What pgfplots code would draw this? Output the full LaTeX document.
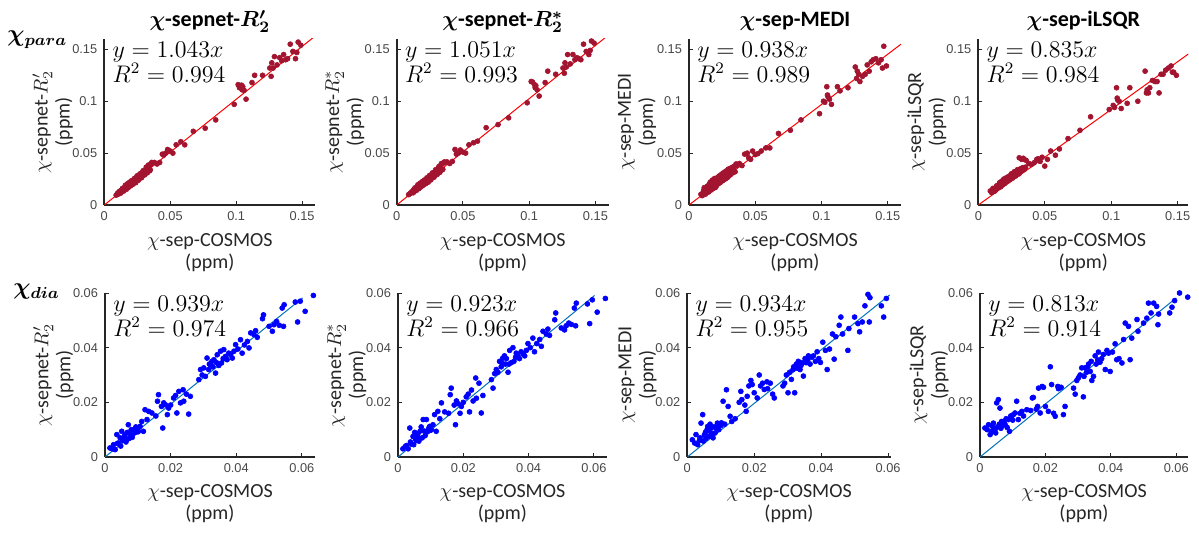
\documentclass[border=0pt]{standalone}
\usepackage{pgfplots}
\pgfplotsset{compat=1.18}
\usepackage{pgfplotstable}
\usepackage{fontspec}
\usepackage{bm}
\setmainfont{Carlito}
\newfontfamily\tickfont{Liberation Sans}
\definecolor{pdot}{HTML}{A2142F}
\definecolor{dline}{HTML}{0072BD}
\definecolor{axc}{HTML}{262626}

\pgfplotstableread{
x y1 y2 y3 y4
0.0090 0.0095 0.0100 0.0103 0.0135
0.0100 0.0112 0.0110 0.0090 0.0120
0.0108 0.0105 0.0115 0.0125 0.0145
0.0110 0.0125 0.0120 0.0140 0.0160
0.0115 0.0130 0.0128 0.0167 0.0130
0.0120 0.0118 0.0125 0.0110 0.0150
0.0125 0.0115 0.0118 0.0105 0.0135
0.0126 0.0140 0.0145 0.0150 0.0160
0.0130 0.0128 0.0130 0.0120 0.0145
0.0135 0.0150 0.0155 0.0170 0.0170
0.0138 0.0160 0.0165 0.0180 0.0185
0.0140 0.0138 0.0142 0.0135 0.0160
0.0145 0.0160 0.0165 0.0185 0.0185
0.0148 0.0135 0.0140 0.0125 0.0165
0.0150 0.0148 0.0150 0.0140 0.0170
0.0154 0.0170 0.0178 0.0200 0.0190
0.0158 0.0155 0.0160 0.0150 0.0180
0.0160 0.0190 0.0195 0.0220 0.0215
0.0162 0.0178 0.0185 0.0205 0.0205
0.0166 0.0165 0.0170 0.0160 0.0190
0.0168 0.0152 0.0158 0.0145 0.0175
0.0170 0.0185 0.0190 0.0215 0.0210
0.0174 0.0172 0.0175 0.0170 0.0200
0.0176 0.0205 0.0210 0.0240 0.0230
0.0178 0.0195 0.0200 0.0230 0.0220
0.0182 0.0180 0.0185 0.0180 0.0210
0.0184 0.0170 0.0175 0.0160 0.0195
0.0186 0.0200 0.0205 0.0225 0.0230
0.0190 0.0188 0.0192 0.0175 0.0215
0.0192 0.0220 0.0225 0.0255 0.0250
0.0194 0.0210 0.0215 0.0240 0.0235
0.0198 0.0195 0.0198 0.0190 0.0225
0.0200 0.0185 0.0190 0.0170 0.0210
0.0202 0.0222 0.0228 0.0250 0.0245
0.0206 0.0200 0.0205 0.0185 0.0230
0.0208 0.0235 0.0240 0.0210 0.0260
0.0210 0.0225 0.0230 0.0260 0.0255
0.0215 0.0210 0.0215 0.0200 0.0240
0.0218 0.0200 0.0205 0.0245 0.0230
0.0220 0.0235 0.0240 0.0270 0.0265
0.0225 0.0220 0.0225 0.0210 0.0250
0.0228 0.0255 0.0262 0.0230 0.0275
0.0230 0.0245 0.0250 0.0280 0.0270
0.0235 0.0228 0.0232 0.0215 0.0255
0.0238 0.0215 0.0220 0.0260 0.0245
0.0240 0.0260 0.0265 0.0290 0.0280
0.0245 0.0240 0.0245 0.0230 0.0265
0.0248 0.0280 0.0285 0.0250 0.0300
0.0250 0.0268 0.0275 0.0300 0.0290
0.0255 0.0250 0.0255 0.0235 0.0275
0.0258 0.0238 0.0242 0.0285 0.0260
0.0260 0.0280 0.0285 0.0310 0.0300
0.0266 0.0262 0.0268 0.0245 0.0285
0.0270 0.0300 0.0310 0.0275 0.0320
0.0272 0.0295 0.0300 0.0320 0.0310
0.0278 0.0272 0.0278 0.0255 0.0290
0.0282 0.0262 0.0268 0.0310 0.0280
0.0284 0.0305 0.0315 0.0330 0.0320
0.0290 0.0280 0.0285 0.0265 0.0300
0.0294 0.0330 0.0340 0.0300 0.0340
0.0296 0.0320 0.0330 0.0345 0.0330
0.0302 0.0300 0.0305 0.0280 0.0310
0.0306 0.0290 0.0295 0.0330 0.0300
0.0308 0.0335 0.0345 0.0350 0.0455
0.0315 0.0315 0.0320 0.0295 0.0325
0.0318 0.0365 0.0370 0.0335 0.0350
0.0322 0.0350 0.0365 0.0360 0.0340
0.0326 0.0310 0.0315 0.0355 0.0440
0.0330 0.0325 0.0330 0.0310 0.0330
0.0335 0.0385 0.0390 0.0355 0.0360
0.0338 0.0375 0.0400 0.0370 0.0450
0.0345 0.0330 0.0340 0.0375 0.0440
0.0348 0.0340 0.0345 0.0320 0.0345
0.0355 0.0395 0.0405 0.0395 0.0365
0.0360 0.0410 0.0415 0.0380 0.0430
0.0380 0.0410 0.0415 0.0400 0.0400
0.0400 0.0395 0.0400 0.0380 0.0390
0.0420 0.0410 0.0420 0.0490 0.0407
0.0440 0.0490 0.0535 0.0500 0.0440
0.0450 0.0480 0.0490 0.0455 0.0445
0.0465 0.0500 0.0500 0.0440 0.0420
0.0480 0.0535 0.0530 0.0520 0.0460
0.0500 0.0520 0.0510 0.0485 0.0375
0.0520 0.0500 0.0500 0.0495 0.0440
0.0545 0.0580 0.0580 0.0520 0.0520
0.0580 0.0610 0.0600 0.0550 0.0480
0.0610 0.0580 0.0615 0.0550 0.0540
0.0675 0.0710 0.0745 0.0690 0.0640
0.0765 0.0740 0.0775 0.0720 0.0720
0.0845 0.0820 0.0840 0.0820 0.0850
0.0985 0.0970 0.0985 0.0880 0.0920
0.1015 0.1160 0.1190 0.1000 0.0960
0.1025 0.1130 0.1185 0.0990 0.0940
0.1040 0.1155 0.1160 0.1140 0.1130
0.1045 0.1110 0.1130 0.1060 0.1030
0.1050 0.1140 0.1150 0.1040 0.1010
0.1060 0.1105 0.1110 0.1020 0.1000
0.1075 0.1020 0.1050 0.0970 0.0930
0.1120 0.1180 0.1180 0.1140 0.0980
0.1140 0.1250 0.1290 0.1100 0.1130
0.1200 0.1250 0.1260 0.1130 0.1000
0.1255 0.1320 0.1320 0.1330 0.1290
0.1265 0.1240 0.1270 0.1220 0.1080
0.1270 0.1370 0.1370 0.1290 0.1110
0.1280 0.1320 0.1330 0.1260 0.1080
0.1290 0.1430 0.1450 0.1190 0.1130
0.1310 0.1350 0.1360 0.1240 0.1200
0.1330 0.1420 0.1450 0.1260 0.1190
0.1345 0.1390 0.1400 0.1350 0.1190
0.1360 0.1450 0.1420 0.1290 0.1080
0.1375 0.1400 0.1410 0.1380 0.1260
0.1390 0.1410 0.1400 0.1400 0.1260
0.1410 0.1550 0.1550 0.1410 0.1300
0.1430 0.1480 0.1480 0.1370 0.1320
0.1450 0.1410 0.1450 0.1400 0.1340
0.1460 0.1470 0.1490 0.1320 0.1280
0.1470 0.1570 0.1580 0.1530 0.1280
0.1490 0.1540 0.1560 0.1340 0.1250
}\toprow

\pgfplotstableread{
x y1 y2 y3 y4
0.0015 0.0033 0.0030 0.0063 0.0106
0.0022 0.0030 0.0038 0.0051 0.0100
0.0026 0.0045 0.0042 0.0082 0.0118
0.0031 0.0027 0.0030 0.0045 0.0082
0.0036 0.0082 0.0106 0.0060 0.0094
0.0038 0.0050 0.0055 0.0070 0.0112
0.0041 0.0051 0.0048 0.0124 0.0124
0.0046 0.0070 0.0075 0.0155 0.0100
0.0048 0.0040 0.0045 0.0058 0.0088
0.0051 0.0094 0.0090 0.0080 0.0198
0.0054 0.0060 0.0065 0.0090 0.0110
0.0056 0.0063 0.0060 0.0068 0.0210
0.0059 0.0075 0.0080 0.0100 0.0120
0.0061 0.0082 0.0085 0.0112 0.0179
0.0064 0.0055 0.0058 0.0075 0.0105
0.0066 0.0063 0.0068 0.0095 0.0130
0.0068 0.0090 0.0095 0.0120 0.0115
0.0071 0.0118 0.0110 0.0105 0.0130
0.0074 0.0068 0.0070 0.0085 0.0125
0.0077 0.0082 0.0137 0.0070 0.0118
0.0080 0.0100 0.0095 0.0110 0.0140
0.0083 0.0072 0.0078 0.0088 0.0108
0.0087 0.0100 0.0137 0.0106 0.0137
0.0090 0.0088 0.0092 0.0124 0.0094
0.0094 0.0110 0.0105 0.0100 0.0150
0.0097 0.0106 0.0112 0.0118 0.0149
0.0100 0.0092 0.0098 0.0115 0.0135
0.0102 0.0094 0.0100 0.0125 0.0155
0.0107 0.0112 0.0118 0.0204 0.0161
0.0112 0.0130 0.0155 0.0120 0.0204
0.0117 0.0094 0.0094 0.0246 0.0137
0.0122 0.0173 0.0167 0.0185 0.0160
0.0128 0.0137 0.0140 0.0149 0.0167
0.0133 0.0167 0.0198 0.0130 0.0150
0.0143 0.0161 0.0165 0.0140 0.0173
0.0155 0.0150 0.0160 0.0200 0.0170
0.0160 0.0204 0.0228 0.0240 0.0216
0.0163 0.0228 0.0252 0.0210 0.0218
0.0172 0.0185 0.0190 0.0190 0.0175
0.0176 0.0106 0.0118 0.0167 0.0185
0.0179 0.0198 0.0205 0.0222 0.0252
0.0184 0.0191 0.0195 0.0260 0.0161
0.0190 0.0155 0.0160 0.0280 0.0258
0.0194 0.0179 0.0185 0.0265 0.0255
0.0200 0.0190 0.0200 0.0235 0.0185
0.0209 0.0216 0.0220 0.0216 0.0167
0.0215 0.0225 0.0230 0.0300 0.0330
0.0219 0.0161 0.0165 0.0260 0.0265
0.0225 0.0240 0.0245 0.0270 0.0160
0.0230 0.0198 0.0205 0.0247 0.0149
0.0238 0.0246 0.0289 0.0275 0.0258
0.0240 0.0204 0.0215 0.0250 0.0250
0.0248 0.0230 0.0270 0.0270 0.0255
0.0255 0.0157 0.0161 0.0230 0.0155
0.0260 0.0222 0.0225 0.0216 0.0185
0.0286 0.0283 0.0283 0.0260 0.0252
0.0291 0.0320 0.0252 0.0270 0.0230
0.0296 0.0300 0.0305 0.0300 0.0280
0.0301 0.0326 0.0320 0.0235 0.0290
0.0306 0.0295 0.0310 0.0310 0.0300
0.0311 0.0362 0.0350 0.0284 0.0326
0.0316 0.0320 0.0330 0.0320 0.0220
0.0318 0.0340 0.0345 0.0330 0.0295
0.0321 0.0338 0.0362 0.0235 0.0326
0.0326 0.0350 0.0370 0.0340 0.0310
0.0329 0.0330 0.0340 0.0325 0.0330
0.0332 0.0356 0.0360 0.0350 0.0340
0.0337 0.0307 0.0310 0.0320 0.0313
0.0340 0.0345 0.0340 0.0335 0.0350
0.0342 0.0374 0.0390 0.0345 0.0280
0.0347 0.0335 0.0345 0.0296 0.0295
0.0352 0.0387 0.0400 0.0360 0.0370
0.0355 0.0344 0.0350 0.0345 0.0340
0.0360 0.0360 0.0365 0.0355 0.0355
0.0362 0.0393 0.0380 0.0370 0.0384
0.0367 0.0368 0.0370 0.0340 0.0347
0.0372 0.0356 0.0360 0.0365 0.0360
0.0377 0.0380 0.0385 0.0370 0.0375
0.0383 0.0374 0.0378 0.0350 0.0320
0.0388 0.0362 0.0370 0.0385 0.0390
0.0393 0.0387 0.0390 0.0360 0.0380
0.0398 0.0411 0.0415 0.0346 0.0313
0.0405 0.0395 0.0400 0.0420 0.0384
0.0413 0.0429 0.0435 0.0390 0.0414
0.0418 0.0380 0.0385 0.0320 0.0356
0.0425 0.0410 0.0415 0.0395 0.0360
0.0434 0.0423 0.0430 0.0450 0.0344
0.0439 0.0399 0.0405 0.0358 0.0430
0.0444 0.0454 0.0460 0.0440 0.0490
0.0454 0.0448 0.0450 0.0482 0.0478
0.0459 0.0462 0.0468 0.0512 0.0356
0.0464 0.0438 0.0445 0.0450 0.0435
0.0480 0.0506 0.0502 0.0390 0.0503
0.0483 0.0520 0.0527 0.0470 0.0460
0.0500 0.0478 0.0472 0.0512 0.0490
0.0510 0.0460 0.0465 0.0488 0.0508
0.0515 0.0484 0.0480 0.0458 0.0563
0.0523 0.0496 0.0490 0.0494 0.0527
0.0531 0.0482 0.0485 0.0553 0.0563
0.0540 0.0545 0.0545 0.0595 0.0551
0.0544 0.0478 0.0480 0.0494 0.0484
0.0546 0.0557 0.0563 0.0583 0.0523
0.0580 0.0567 0.0560 0.0553 0.0527
0.0587 0.0494 0.0488 0.0512 0.0548
0.0595 0.0570 0.0575 0.0580 0.0572
0.0610 0.0533 0.0530 0.0558 0.0600
0.0635 0.0591 0.0580 0.0575 0.0585
}\botrow

\pgfplotsset{
  panel/.style={
    scale only axis,
    axis x line=bottom, axis y line=left,
    axis line style={-, draw=axc, line width=0.85pt},
    tick align=inside, major tick length=2pt,
    tick style={draw=axc, line width=0.5pt},
    tick label style={font=\tickfont\fontsize{6.4}{7}\selectfont, text=axc!85},
    scaled ticks=false,
    xmin=0, ymin=0,
    every axis y label/.style={at={(axis description cs:-0.245,0.5)}, anchor=center, rotate=90, align=center, font=\fontsize{10}{11}\selectfont, text=axc},
    every axis x label/.style={at={(axis description cs:0.5,-0.285)}, anchor=center, align=center, font=\fontsize{10}{11}\selectfont, text=axc},
    xlabel={$\chi$-sep-COSMOS\\(ppm)},
  },
  toppanel/.style={panel, height=83pt, ymax=0.16,
    xtick={0,0.05,0.1,0.15}, xticklabels={0,0.05,0.1,0.15},
    ytick={0,0.05,0.1,0.15}, yticklabels={0,0.05,0.1,0.15}},
  botpanel/.style={panel, height=82pt, ymax=0.06,
    xtick={0,0.02,0.04,0.06}, xticklabels={0,0.02,0.04,0.06},
    ytick={0,0.02,0.04,0.06}, yticklabels={0,0.02,0.04,0.06}},
  sc/.style={only marks, mark=*, mark size=1.25pt, color=#1, mark options={line width=0.3pt}},
}
\tikzset{eq/.style={anchor=north west, align=left, inner sep=0pt, font=\fontsize{12}{12.2}\selectfont},
  ttl/.style={anchor=base, inner sep=0pt, font=\bfseries\fontsize{11}{12}\selectfont}}

\begin{document}
\begin{tikzpicture}
\useasboundingbox (0,0) rectangle (599.5pt,266.5pt);

% ---------- top row ----------
\begin{axis}[toppanel, name=t1, at={(52.15pt,164pt)}, anchor=south west, width=105.5pt, xmax=0.16,
  ylabel={$\chi$-sepnet-$R'_2$\\(ppm)}]
\addplot[sc=pdot] table[x=x,y=y1]{\toprow};
\addplot[red, line width=0.5pt] coordinates {(0,0) (0.16,0.163)};
\node[eq] at ([xshift=4pt,yshift=-1.5pt]rel axis cs:0,1) {$y=1.043x$\\$R^2=0.994$};
\end{axis}

\begin{axis}[toppanel, name=t2, at={(198.35pt,164pt)}, anchor=south west, width=106pt, xmax=0.16,
  ylabel={$\chi$-sepnet-$R_2^*$\\(ppm)}]
\addplot[sc=pdot] table[x=x,y=y2]{\toprow};
\addplot[red, line width=0.5pt] coordinates {(0,0) (0.16,0.164)};
\node[eq] at ([xshift=4pt,yshift=-1.5pt]rel axis cs:0,1) {$y=1.051x$\\$R^2=0.993$};
\end{axis}

\begin{axis}[toppanel, name=t3, at={(344.5pt,164pt)}, anchor=south west, width=106pt, xmax=0.16,
  ylabel={$\chi$-sep-MEDI\\(ppm)}]
\addplot[sc=pdot] table[x=x,y=y3]{\toprow};
\addplot[red, line width=0.5pt] coordinates {(0,0) (0.16,0.155)};
\node[eq] at ([xshift=4pt,yshift=-1.5pt]rel axis cs:0,1) {$y=0.938x$\\$R^2=0.989$};
\end{axis}

\begin{axis}[toppanel, name=t4, at={(489.15pt,164pt)}, anchor=south west, width=105pt, xmax=0.158,
  ylabel={$\chi$-sep-iLSQR\\(ppm)}]
\addplot[sc=pdot] table[x=x,y=y4]{\toprow};
\addplot[red, line width=0.5pt] coordinates {(0,0) (0.158,0.1455)};
\node[eq] at ([xshift=4pt,yshift=-1.5pt]rel axis cs:0,1) {$y=0.835x$\\$R^2=0.984$};
\end{axis}

\node[ttl] at ([yshift=6pt]t1.north) {$\bm{\chi}$-sepnet-$\bm{R'_2}$};
\node[ttl] at ([yshift=6pt]t2.north) {$\bm{\chi}$-sepnet-$\bm{R_2^*}$};
\node[ttl] at ([yshift=6pt]t3.north) {$\bm{\chi}$-sep-MEDI};
\node[ttl] at ([yshift=6pt]t4.north) {$\bm{\chi}$-sep-iLSQR};

% ---------- bottom row ----------
\begin{axis}[botpanel, at={(52.5pt,38pt)}, anchor=south west, width=105pt, xmax=0.064,
  ylabel={$\chi$-sepnet-$R'_2$\\(ppm)}]
\addplot[sc=blue] table[x=x,y=y1]{\botrow};
\addplot[dline, line width=0.5pt] coordinates {(0,0) (0.0602,0.0582)};
\node[eq] at ([xshift=4pt,yshift=-1.5pt]rel axis cs:0,1) {$y=0.939x$\\$R^2=0.974$};
\end{axis}

\begin{axis}[botpanel, at={(199pt,38pt)}, anchor=south west, width=104.5pt, xmax=0.064,
  ylabel={$\chi$-sepnet-$R_2^*$\\(ppm)}]
\addplot[sc=blue] table[x=x,y=y2]{\botrow};
\addplot[dline, line width=0.5pt] coordinates {(0,0) (0.0602,0.0591)};
\node[eq] at ([xshift=4pt,yshift=-1.5pt]rel axis cs:0,1) {$y=0.923x$\\$R^2=0.966$};
\end{axis}

\begin{axis}[botpanel, at={(343.65pt,38pt)}, anchor=south west, width=101.7pt, xmax=0.0608,
  ylabel={$\chi$-sep-MEDI\\(ppm)}]
\addplot[sc=blue] table[x=x,y=y3]{\botrow};
\addplot[dline, line width=0.5pt] coordinates {(0,0) (0.0605,0.0593)};
\node[eq] at ([xshift=4pt,yshift=-1.5pt]rel axis cs:0,1) {$y=0.934x$\\$R^2=0.955$};
\end{axis}

\begin{axis}[botpanel, at={(490pt,38pt)}, anchor=south west, width=104pt, xmax=0.0636,
  ylabel={$\chi$-sep-iLSQR\\(ppm)}]
\addplot[sc=blue] table[x=x,y=y4]{\botrow};
\addplot[dline, line width=0.5pt] coordinates {(0,0) (0.060,0.0582)};
\node[eq] at ([xshift=4pt,yshift=-1.5pt]rel axis cs:0,1) {$y=0.813x$\\$R^2=0.914$};
\end{axis}

% row labels
\node[anchor=west, inner sep=0pt, font=\fontsize{12}{14}\selectfont] at (3.5pt,246.5pt) {$\bm{\chi_{para}}$};
\node[anchor=west, inner sep=0pt, font=\fontsize{12}{14}\selectfont] at (6.5pt,120.5pt) {$\bm{\chi_{dia}}$};
\end{tikzpicture}
\end{document}
